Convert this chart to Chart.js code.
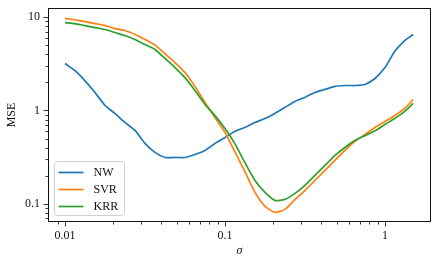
<!DOCTYPE html>
<html>
<head>
<meta charset="utf-8">
<script src="https://cdn.jsdelivr.net/npm/chart.js@4.4.0/dist/chart.umd.min.js"></script>
<style>
  html, body { margin: 0; padding: 0; background: #fff; }
  canvas { display: block; }
</style>
</head>
<body>
<canvas id="chart" width="440" height="266"></canvas>
<script>
// values (log-log)
const sigma = [0.01, 0.0115, 0.0133, 0.0154, 0.0178, 0.0205, 0.0237, 0.0274, 0.0316, 0.0365,
  0.0422, 0.0487, 0.0562, 0.0649, 0.075, 0.0866, 0.1, 0.115, 0.133, 0.154,
  0.178, 0.205, 0.237, 0.274, 0.316, 0.365, 0.422, 0.487, 0.562, 0.649,
  0.75, 0.866, 1.0, 1.15, 1.33, 1.5];
const nwMse = [3.18, 2.68, 2.09, 1.56, 1.13, 0.93, 0.744, 0.611, 0.444, 0.356,
  0.314, 0.314, 0.314, 0.338, 0.373, 0.444, 0.514, 0.596, 0.658, 0.744,
  0.821, 0.93, 1.08, 1.25, 1.38, 1.56, 1.68, 1.81, 1.85, 1.85,
  1.90, 2.20, 2.88, 4.28, 5.61, 6.50];
const svrMse = [9.7, 9.35, 8.95, 8.52, 8.11, 7.53, 7.17, 6.50, 5.75, 5.0,
  4.04, 3.26, 2.55, 1.81, 1.22, 0.842, 0.582, 0.364, 0.223, 0.133,
  0.094, 0.0811, 0.0873, 0.1117, 0.139, 0.178, 0.228, 0.292, 0.373, 0.466,
  0.554, 0.658, 0.763, 0.884, 1.05, 1.31];
const krrMse = [8.73, 8.52, 8.11, 7.72, 7.35, 6.83, 6.34, 5.75, 5.08, 4.5,
  3.6, 2.88, 2.25, 1.64, 1.16, 0.88, 0.64, 0.445, 0.278, 0.178,
  0.133, 0.109, 0.1117, 0.1295, 0.158, 0.202, 0.258, 0.330, 0.402, 0.478,
  0.535, 0.605, 0.708, 0.821, 0.976, 1.19];

const seriesNames = ['NW', 'SVR', 'KRR'];
const seriesColors = ['#1f77b4', '#ff7f0e', '#2ca02c'];
const xTickLabels = ['0.01', '0.1', '1'];
const yTickLabels = ['0.1', '1', '10'];

const FONT = "'Liberation Serif', 'Times New Roman', serif";

function clean(v) { return String(parseFloat(v.toPrecision(6))); }
function isWhole(v) {
  const e = Math.floor(Math.log10(v) + 1e-9);
  const s = v / Math.pow(10, e);
  return Math.abs(s - Math.round(s)) < 1e-6;
}
function isMajor(v) {
  const l = Math.log10(v);
  return Math.abs(l - Math.round(l)) < 1e-6;
}
function keepWholeTicks(scale) {
  scale.ticks = scale.ticks.filter(t => isWhole(t.value));
}

const allSeries = [nwMse, svrMse, krrMse];
const datasets = allSeries.map((vals, i) => ({
  label: seriesNames[i],
  data: sigma.map((s, j) => ({ x: s, y: vals[j] })),
  borderColor: seriesColors[i],
  backgroundColor: seriesColors[i],
  borderWidth: 1.7,
  pointRadius: 0,
  tension: 0.2,
  fill: false,
  order: 3 - i
}));

// ticks, frame and legend in the matplotlib look
const framePlugin = {
  id: 'framePlugin',
  afterDraw(chart) {
    const { ctx, chartArea: a, scales } = chart;
    ctx.save();
    ctx.strokeStyle = '#222';
    ctx.lineWidth = 0.9;
    scales.x.ticks.forEach(t => {
      const px = Math.round(scales.x.getPixelForValue(t.value)) + 0.5;
      const len = isMajor(t.value) ? 4.5 : 2.5;
      ctx.beginPath(); ctx.moveTo(px, a.bottom); ctx.lineTo(px, a.bottom + len); ctx.stroke();
    });
    scales.y.ticks.forEach(t => {
      const py = Math.round(scales.y.getPixelForValue(t.value)) + 0.5;
      const len = isMajor(t.value) ? 4.5 : 2.5;
      ctx.beginPath(); ctx.moveTo(a.left, py); ctx.lineTo(a.left - len, py); ctx.stroke();
    });
    ctx.lineWidth = 1;
    ctx.strokeStyle = '#111';
    ctx.strokeRect(a.left + 0.5, a.top + 0.5, a.right - a.left - 1, a.bottom - a.top - 1);

    // legend box, lower left
    const bx = a.left + 6.5, by = a.bottom - 60.5, bw = 70, bh = 54, r = 3;
    ctx.beginPath();
    ctx.moveTo(bx + r, by);
    ctx.arcTo(bx + bw, by, bx + bw, by + bh, r);
    ctx.arcTo(bx + bw, by + bh, bx, by + bh, r);
    ctx.arcTo(bx, by + bh, bx, by, r);
    ctx.arcTo(bx, by, bx + bw, by, r);
    ctx.closePath();
    ctx.fillStyle = 'rgba(255,255,255,0.8)';
    ctx.fill();
    ctx.strokeStyle = '#d0d0d0';
    ctx.lineWidth = 1;
    ctx.stroke();

    ctx.font = '12px ' + FONT;
    ctx.textBaseline = 'middle';
    ctx.textAlign = 'left';
    chart.data.datasets.forEach((ds, i) => {
      const y = by + 11 + i * 17;
      ctx.strokeStyle = ds.borderColor;
      ctx.lineWidth = 1.7;
      ctx.beginPath(); ctx.moveTo(bx + 4, y); ctx.lineTo(bx + 29, y); ctx.stroke();
      ctx.fillStyle = '#111';
      ctx.fillText(ds.label, bx + 39, y + 0.5);
    });
    ctx.restore();
  }
};

new Chart(document.getElementById('chart'), {
  type: 'line',
  data: { datasets },
  options: {
    responsive: false,
    animation: false,
    devicePixelRatio: 1,
    layout: { padding: { top: 8, right: 9, left: 0, bottom: 0 } },
    plugins: { legend: { display: false }, tooltip: { enabled: false } },
    scales: {
      x: {
        type: 'logarithmic',
        min: 0.00783,
        max: 1.94,
        afterBuildTicks: keepWholeTicks,
        afterFit(scale) {
          scale.height = 44;
          scale.paddingLeft = 0; scale.paddingRight = 0;
        },
        grid: { display: false, drawTicks: false },
        border: { display: false },
        ticks: {
          autoSkip: false,
          maxRotation: 0,
          padding: 7,
          color: '#111',
          font: { family: FONT, size: 12 },
          callback: v => (xTickLabels.includes(clean(v)) ? clean(v) : '')
        },
        title: {
          display: true,
          text: 'σ',
          color: '#111',
          font: { family: FONT, size: 12, style: 'italic' },
          padding: { top: 0, bottom: 8 }
        }
      },
      y: {
        type: 'logarithmic',
        min: 0.064,
        max: 12.5,
        afterBuildTicks: keepWholeTicks,
        afterFit(scale) {
          scale.width = 48;
          scale.paddingTop = 0; scale.paddingBottom = 0;
        },
        grid: { display: false, drawTicks: false },
        border: { display: false },
        ticks: {
          autoSkip: false,
          padding: 8,
          color: '#111',
          font: { family: FONT, size: 12 },
          callback: v => (yTickLabels.includes(clean(v)) ? clean(v) : '')
        },
        title: {
          display: true,
          text: 'MSE',
          color: '#111',
          font: { family: FONT, size: 12 },
          padding: { top: 5, bottom: 0 }
        }
      }
    }
  },
  plugins: [framePlugin]
});
</script>
</body>
</html>
